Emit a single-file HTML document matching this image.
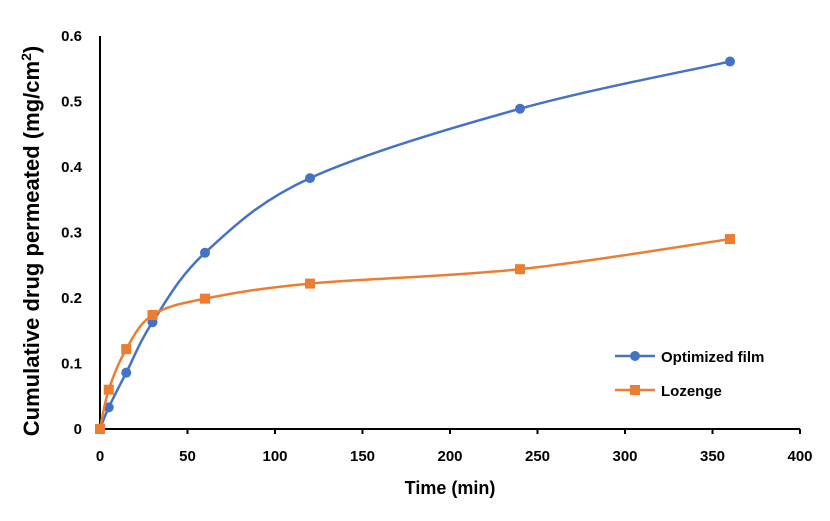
<!DOCTYPE html>
<html><head><meta charset="utf-8">
<style>
html,body{margin:0;padding:0;background:#fff;}
svg{display:block;font-family:"Liberation Sans",sans-serif;}
</style></head>
<body>
<svg id="chart" width="830" height="521" viewBox="0 0 830 521" xmlns="http://www.w3.org/2000/svg">
<g id="axes"></g>
<g id="series"></g>
<text x="450" y="494" text-anchor="middle" font-size="18" font-weight="bold" fill="#000">Time (min)</text>
<text transform="translate(39,241) rotate(-90)" text-anchor="middle" font-size="22" font-weight="bold" fill="#000">Cumulative drug permeated (mg/cm<tspan font-size="14" dy="-8">2</tspan><tspan dy="8">)</tspan></text>
<g>
  <g>
    <line x1="615" y1="356" x2="655" y2="356" stroke="#4472C4" stroke-width="2.5"/>
    <circle cx="635" cy="356" r="5" fill="#4472C4"/>
    <text x="661" y="362" font-size="15" font-weight="bold" fill="#000">Optimized film</text>
  </g>
  <g>
    <line x1="615" y1="390" x2="655" y2="390" stroke="#ED7D31" stroke-width="2.5"/>
    <rect x="630" y="385" width="10" height="10" fill="#ED7D31"/>
    <text x="661" y="396" font-size="15" font-weight="bold" fill="#000">Lozenge</text>
  </g>
</g>
</svg>
<script>
const timePoints = [0, 5, 15, 30, 60, 120, 240, 360];
const filmValues = [0, 0.033, 0.086, 0.163, 0.269, 0.383, 0.489, 0.561];
const lozengeValues = [0, 0.060, 0.122, 0.174, 0.199, 0.222, 0.244, 0.290];
const xTicks = [0, 50, 100, 150, 200, 250, 300, 350, 400];
const yTicks = [0, 0.1, 0.2, 0.3, 0.4, 0.5, 0.6];
const yTickLabels = ["0", "0.1", "0.2", "0.3", "0.4", "0.5", "0.6"];

const X0 = 100, X1 = 800, Y0 = 429, Y1 = 36;
function xs(v){ return X0 + (v - 0) / 400 * (X1 - X0); }
function ys(v){ return Y0 - v / 0.6 * (Y0 - Y1); }
const NS = "http://www.w3.org/2000/svg";
function mk(tag, attrs, parent){
  const e = document.createElementNS(NS, tag);
  for (const k in attrs) e.setAttribute(k, attrs[k]);
  parent.appendChild(e); return e;
}
const axes = document.getElementById('axes');
const series = document.getElementById('series');

const yAxis = mk('line', {x1:X0, y1:Y1, x2:X0, y2:Y0, stroke:'#000', 'stroke-width':2}, axes);


const xAxis = mk('line', {x1:X0-1, y1:Y0, x2:X1, y2:Y0, stroke:'#000', 'stroke-width':2}, axes);



xTicks.forEach(t => {
  const tk = mk('line', {x1:xs(t), y1:Y0, x2:xs(t), y2:Y0+5, stroke:'#000', 'stroke-width':2}, axes);
  
  
  const lb = mk('text', {x:xs(t), y:Y0+32, 'text-anchor':'middle', 'font-size':15, 'font-weight':'bold', fill:'#000'}, axes);
  lb.textContent = String(t);
  
  
});
yTicks.forEach((t, i) => {
  const lb = mk('text', {x:X0-18, y:ys(t)+5, 'text-anchor':'end', 'font-size':15, 'font-weight':'bold', fill:'#000'}, axes);
  lb.textContent = yTickLabels[i];
  
  
});

function smoothPath(pts){
  let d = 'M' + pts[0][0] + ',' + pts[0][1];
  for (let i = 0; i < pts.length - 1; i++){
    const p0 = pts[Math.max(0, i-1)], p1 = pts[i], p2 = pts[i+1], p3 = pts[Math.min(pts.length-1, i+2)];
    const c1x = p1[0] + (p2[0]-p0[0])/6, c1y = p1[1] + (p2[1]-p0[1])/6;
    const c2x = p2[0] - (p3[0]-p1[0])/6, c2y = p2[1] - (p3[1]-p1[1])/6;
    d += ' C' + c1x + ',' + c1y + ' ' + c2x + ',' + c2y + ' ' + p2[0] + ',' + p2[1];
  }
  return d;
}

function drawSeries(vals, color, marker, name){
  const pts = timePoints.map((t, i) => [xs(t), ys(vals[i])]);
  const path = mk('path', {d:smoothPath(pts), fill:'none', stroke:color, 'stroke-width':2.5}, series);
  
  
  pts.forEach(p => {
    let m;
    if (marker === 'circle') m = mk('circle', {cx:p[0], cy:p[1], r:5, fill:color}, series);
    else m = mk('rect', {x:p[0]-5, y:p[1]-5, width:10, height:10, fill:color}, series);
    
    
  });
}
drawSeries(filmValues, '#4472C4', 'circle', 'optimized-film');
drawSeries(lozengeValues, '#ED7D31', 'square', 'lozenge');
</script>
</body></html>
